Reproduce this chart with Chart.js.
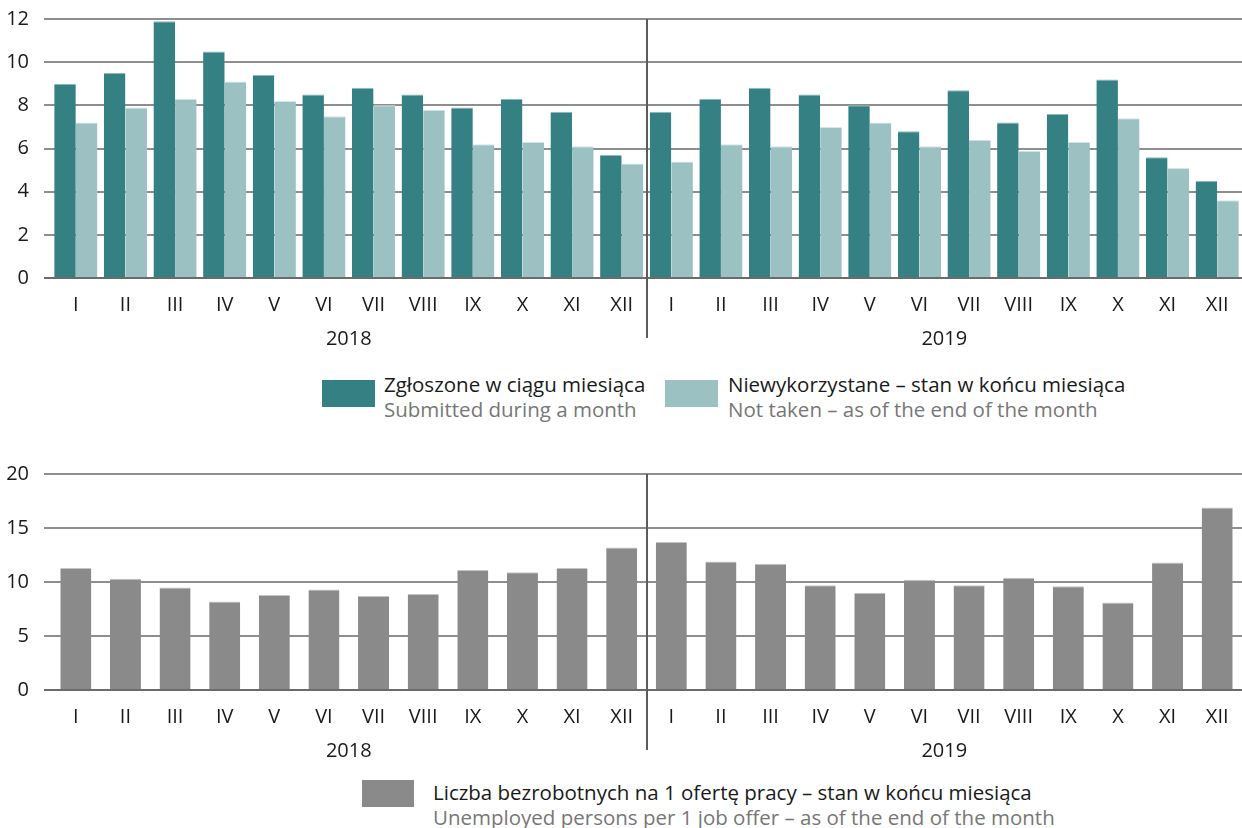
<!DOCTYPE html>
<html>
<head>
<meta charset="utf-8">
<script src="https://cdn.jsdelivr.net/npm/chart.js@4"></script>
<style>
  body { margin: 0; background: #fff; font-family: "Open Sans", sans-serif; }
  #page { position: relative; width: 1242px; height: 828px; overflow: hidden; }
  canvas { position: absolute; left: 0; }
  .box { position: absolute; }
  .leg { position: absolute; font-size: 20.5px; line-height: 25px; color: #1a1a1a; white-space: nowrap; }
  .leg span { display: block; }
  .leg .en { color: #777; }
</style>
</head>
<body>
<div id="page">
  <canvas id="offersChart" width="1242" height="354" style="top:0"></canvas>
  <div class="box" style="left:322px;top:380px;width:53px;height:27px;background:#348083"></div>
  <div class="leg" style="left:384px;top:372px"><span>Zgłoszone w ciągu miesiąca</span><span class="en">Submitted during a month</span></div>
  <div class="box" style="left:665px;top:380px;width:53px;height:27px;background:#9bc1c3"></div>
  <div class="leg" style="left:728px;top:372px"><span>Niewykorzystane – stan w końcu miesiąca</span><span class="en">Not taken – as of the end of the month</span></div>

  <canvas id="ratioChart" width="1242" height="311" style="top:455px"></canvas>
  <div class="box" style="left:362px;top:780px;width:52px;height:27px;background:#8a8a8a"></div>
  <div class="leg" style="left:433px;top:780px"><span>Liczba bezrobotnych na 1 ofertę pracy – stan w końcu miesiąca</span><span class="en">Unemployed persons per 1 job offer – as of the end of the month</span></div>
</div>
<script>
const months = ['I', 'II', 'III', 'IV', 'V', 'VI', 'VII', 'VIII', 'IX', 'X', 'XI', 'XII'];
const years = ['2018', '2019'];

// oferty pracy (tys.)
const submitted2018 = [9.0, 9.5, 11.9, 10.5, 9.4, 8.5, 8.8, 8.5, 7.9, 8.3, 7.7, 5.7];
const submitted2019 = [7.7, 8.3, 8.8, 8.5, 8.0, 6.8, 8.7, 7.2, 7.6, 9.2, 5.6, 4.5];
const notTaken2018 = [7.2, 7.9, 8.3, 9.1, 8.2, 7.5, 8.0, 7.8, 6.2, 6.3, 6.1, 5.3];
const notTaken2019 = [5.4, 6.2, 6.1, 7.0, 7.2, 6.1, 6.4, 5.9, 6.3, 7.4, 5.1, 3.6];

// bezrobotni na 1 ofertę
const perOffer2018 = [11.3, 10.3, 9.5, 8.2, 8.8, 9.3, 8.7, 8.9, 11.1, 10.9, 11.3, 13.2];
const perOffer2019 = [13.7, 11.9, 11.7, 9.7, 9.0, 10.2, 9.7, 10.4, 9.6, 8.1, 11.8, 16.9];

const textColor = '#1a1a1a';
const tickFont = { family: 'Open Sans', size: 20 };

// pionowa linia między latami
const separator = {
  id: 'separator',
  afterDatasetsDraw(chart) {
    const x = chart.scales.x;
    const px = Math.round((x.getPixelForValue(11) + x.getPixelForValue(12)) / 2);
    const ctx = chart.ctx;
    ctx.save();
    ctx.strokeStyle = '#5c5c5c';
    ctx.lineWidth = 2;
    ctx.beginPath();
    ctx.moveTo(px, chart.chartArea.top);
    ctx.lineTo(px, chart.chartArea.bottom + 60);
    ctx.stroke();
    ctx.restore();
  }
};

function makeChart(id, datasets, yMax, yStep, catPct) {
  return new Chart(document.getElementById(id), {
    type: 'bar',
    data: {
      labels: months.concat(months),
      datasets: datasets
    },
    options: {
      responsive: false,
      animation: false,
      layout: { padding: { top: 19, left: 0, right: 0, bottom: 0 } },
      plugins: { legend: { display: false }, tooltip: { enabled: false } },
      datasets: { bar: { categoryPercentage: catPct, barPercentage: 1.0 } },
      scales: {
        x: {
          grid: { display: false },
          border: { display: false },
          ticks: { color: textColor, font: tickFont, padding: 7, maxRotation: 0, autoSkip: false },
          afterFit: (s) => { s.height = 36; }
        },
        year: {
          type: 'category',
          labels: years,
          position: 'bottom',
          offset: true,
          weight: 1,
          grid: { display: false },
          border: { display: false },
          ticks: { color: textColor, font: tickFont, padding: 5 },
          afterFit: (s) => { s.height = 40; }
        },
        y: {
          min: 0,
          max: yMax,
          ticks: { stepSize: yStep, color: textColor, font: tickFont, padding: 15 },
          grid: {
            color: (c) => c.tick.value === 0 ? '#6b6b6b' : '#8e8e8e',
            lineWidth: 2,
            tickLength: 7
          },
          border: { display: false },
          afterFit: (s) => {
            s.width = 51;
            s.paddingTop = 0;
            s.paddingBottom = 0;
          }
        }
      }
    },
    plugins: [separator]
  });
}

makeChart('offersChart', [
  {
    label: 'Zgłoszone w ciągu miesiąca',
    data: submitted2018.concat(submitted2019),
    backgroundColor: '#348083',
    borderColor: '#8fb9bb',
    borderWidth: { top: 1, left: 0, right: 0, bottom: 0 },
    borderSkipped: 'bottom'
  },
  {
    label: 'Niewykorzystane – stan w końcu miesiąca',
    data: notTaken2018.concat(notTaken2019),
    backgroundColor: '#9bc1c3',
    borderColor: '#d6e6e7',
    borderWidth: { top: 1, left: 0, right: 0, bottom: 0 },
    borderSkipped: 'bottom'
  }
], 12, 2, 0.87);

makeChart('ratioChart', [
  {
    label: 'Liczba bezrobotnych na 1 ofertę pracy – stan w końcu miesiąca',
    data: perOffer2018.concat(perOffer2019),
    backgroundColor: '#8a8a8a',
    borderColor: '#c4c4c4',
    borderWidth: { top: 1, left: 0, right: 0, bottom: 0 },
    borderSkipped: 'bottom'
  }
], 20, 5, 0.625);
</script>
</body>
</html>
